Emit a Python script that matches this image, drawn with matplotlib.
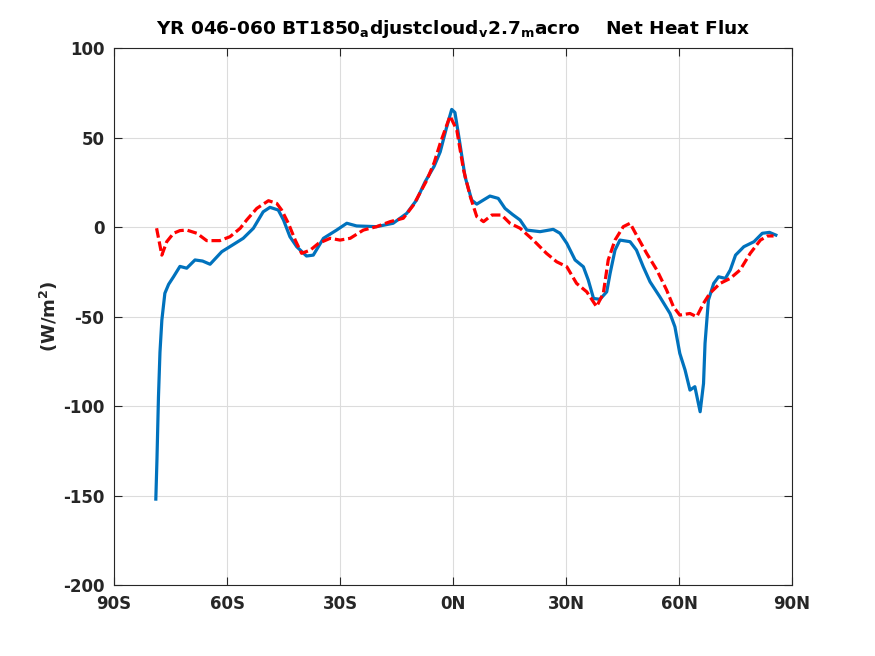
import matplotlib
matplotlib.use("Agg")
import matplotlib.pyplot as plt
import numpy as np

# latitude / value pairs
blue_lat = [-78.9, -78.6, -78.2, -77.8, -77.3, -76.5, -75.5, -74.2, -72.5, -70.7, -68.5,
            -66.5, -64.5, -61.4, -58.5, -55.7, -53.0, -50.4, -48.6, -46.4, -45.0, -43.3,
            -41.5, -38.9, -37.1, -34.4, -30.9, -28.2, -25.6, -20.3, -15.9, -12.3, -9.7,
            -7.4, -5.0, -3.4, -1.8, -0.35, 0.5, 1.4, 3.2, 4.96, 6.3, 8.0, 9.8, 12.0,
            13.8, 15.8, 17.8, 19.6, 23.1, 26.6, 28.4, 30.2, 32.4, 34.6, 35.9, 37.3, 39.0,
            40.8, 41.7, 43.0, 44.3, 47.0, 48.7, 50.5, 52.3, 54.9, 57.6, 58.9, 60.2, 61.6,
            62.9, 64.2, 65.6, 66.5, 66.9, 67.8, 69.2, 70.5, 72.3, 73.6, 75.0, 77.2, 79.9,
            82.1, 84.0, 85.7]
blue_val = [-152.0, -130.0, -95.0, -70.0, -52.0, -37.0, -32.0, -27.8, -22.0, -23.0, -18.4,
            -19.0, -20.8, -13.8, -10.0, -6.3, -0.7, 8.5, 11.0, 9.5, 3.9, -5.4,
            -11.0, -16.2, -15.7, -6.3, -1.7, 2.1, 0.6, 0.2, 2.1, 7.6, 15.0,
            25.3, 34.0, 42.0, 55.0, 65.7, 64.0, 52.3, 28.0, 15.0, 12.8, 15.0, 17.3, 16.0,
            10.4, 7.0, 3.9, -1.7, -2.6, -1.3, -3.5, -9.1, -18.4, -22.2, -29.6, -39.9, -40.4,
            -36.2, -25.9, -12.9, -7.3, -8.2, -12.9, -22.2, -30.6, -39.0, -48.3, -55.7, -70.6, -79.9,
            -91.1, -89.2, -103.2, -87.4, -65.0, -40.8, -31.5, -27.8, -28.7, -24.0, -15.7, -11.0, -8.2,
            -3.5, -3.0, -4.5]

red_lat = [-78.7, -77.3, -76.0, -74.2, -72.5, -70.7, -68.0, -65.4, -61.9, -59.2, -56.5,
           -54.8, -52.1, -49.0, -46.8, -45.5, -43.7, -41.9, -40.2, -37.9, -35.7, -32.6,
           -30.0, -27.3, -23.8, -20.3, -16.7, -13.2, -10.5, -7.0, -5.0, -3.4, -0.8, 1.0,
           2.8, 4.6, 6.3, 8.1, 10.3, 12.9, 15.1, 17.8, 21.3, 24.8, 27.5, 30.2, 32.8,
           35.5, 38.1, 39.9, 41.2, 43.0, 45.2, 47.0, 48.7, 51.4, 54.1, 56.7, 58.5, 60.2,
           62.9, 64.7, 66.5, 68.2, 70.9, 73.6, 76.2, 78.9, 81.6, 83.5, 85.1]
red_val = [-0.7, -15.7, -8.2, -3.5, -2.0, -1.7, -3.5, -7.6, -7.6, -5.4, -0.7,
           3.9, 10.4, 14.7, 13.2, 9.5, 2.0, -7.3, -14.7, -12.9, -9.1, -6.3,
           -7.3, -6.3, -1.7, 0.2, 3.0, 4.9, 12.3, 26.0, 36.0, 46.8, 62.0, 54.2,
           31.8, 16.9, 5.8, 3.0, 6.7, 6.7, 2.1, -0.7, -7.3, -14.7, -19.4, -22.2, -31.5,
           -36.2, -44.5, -37.0, -18.4, -7.3, 0.2, 2.1, -4.5, -14.7, -24.0, -35.2, -44.5, -49.2,
           -48.3, -50.1, -42.6, -37.0, -31.5, -28.7, -24.0, -14.7, -7.3, -5.0, -5.0]

x_ticks = [-90, -60, -30, 0, 30, 60, 90]
x_labels = ["90S", "60S", "30S", "0N", "30N", "60N", "90N"]
y_ticks = [-200, -150, -100, -50, 0, 50, 100]

plt.rcParams["font.family"] = ["DejaVu Sans"]
plt.rcParams["font.weight"] = "bold"
plt.rcParams["mathtext.default"] = "bf"
plt.rcParams["axes.unicode_minus"] = False

fig = plt.figure(figsize=(8.75, 6.56), dpi=100)
ax = fig.add_axes([0.1303, 0.1082, 0.7749, 0.8186])

ax.plot(blue_lat, blue_val, color="#0072BD", linewidth=2.3, zorder=3)
ax.plot(red_lat, red_val, color="#FF0000", linewidth=2.3, linestyle=(0, (3, 1.2)), zorder=4)

ax.set_xlim(-90, 90)
ax.set_ylim(-200, 100)
ax.set_xticks(x_ticks)
ax.set_xticklabels(x_labels)
ax.set_yticks(y_ticks)
ax.grid(True, color="#dcdcdc", linewidth=0.8)
ax.set_axisbelow(True)
ax.tick_params(direction="in", top=True, right=True, length=6, width=0.8,
               labelsize=12, pad=7, colors="#262626")
for lab in ax.get_xticklabels() + ax.get_yticklabels():
    lab.set_fontweight("bold")
for sp in ax.spines.values():
    sp.set_linewidth(0.8)
    sp.set_color("#262626")

ax.set_ylabel(r"(W/m$^2$)", fontsize=13, fontweight="bold", labelpad=2, color="#262626")
ax.set_title(r"YR 046-060 BT1850$_a$djustcloud$_v$2.7$_m$acro    Net Heat Flux",
             fontsize=13.3, fontweight="bold", pad=10)

fig.savefig("out.png", dpi=100)
